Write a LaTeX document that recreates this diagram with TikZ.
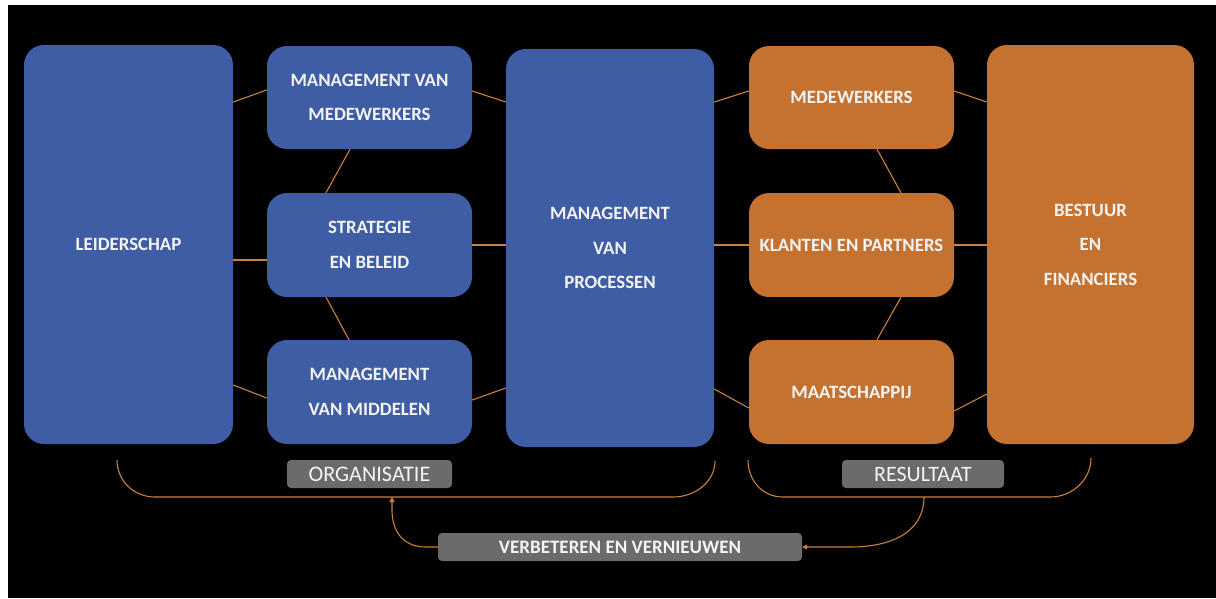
\documentclass[tikz,border=0pt]{standalone}
\usepackage{fontspec}
\setmainfont{Carlito}
\usetikzlibrary{calc,arrows.meta}
\definecolor{boxblue}{HTML}{3E5DA5}
\definecolor{boxorange}{HTML}{C57230}
\definecolor{labelgray}{HTML}{6B6B6B}
\definecolor{linkcol}{HTML}{C8823C}
\definecolor{txt}{HTML}{F4F4F4}
\begin{document}
\begin{tikzpicture}[x=1pt,y=-1pt,
  block/.style={rectangle, rounded corners=20pt, inner sep=0pt, text=txt, align=center,
    font=\fontsize{18.8}{34.5}\selectfont\bfseries},
  bluebox/.style={block, fill=boxblue},
  orangebox/.style={block, fill=boxorange},
  tallbox/.style={minimum width=208pt, minimum height=399pt},
  smallbox/.style={minimum width=205pt, minimum height=104pt},
  tag/.style={rectangle, rounded corners=4pt, fill=labelgray, inner sep=0pt, text=txt,
    minimum height=28pt},
  link/.style={draw=linkcol, line width=1.1pt},
  flow/.style={draw=linkcol, line width=1.1pt, -{Triangle[length=5pt,width=5pt]}}]

\useasboundingbox (0,0) rectangle (1216,598);
\fill[white] (0,0) rectangle (1216,598);
\fill[black] (8,5) rectangle (1216,598);

% blue side
\node[bluebox, tallbox, minimum width=209pt] (lead) at (128.5,244.5) {LEIDERSCHAP};
\node[bluebox, smallbox, minimum height=103pt] (mvm) at (369.5,97.5) {MANAGEMENT VAN\\MEDEWERKERS};
\node[bluebox, smallbox] (strat) at (369.5,245) {STRATEGIE\\EN BELEID};
\node[bluebox, smallbox] (mid) at (369.5,392) {MANAGEMENT\\VAN MIDDELEN};
\node[bluebox, tallbox, minimum height=398pt] (proc) at (610,248) {MANAGEMENT\\VAN\\PROCESSEN};

% orange side
\node[orangebox, smallbox, minimum height=103pt] (med) at (851.5,97.5) {MEDEWERKERS};
\node[orangebox, smallbox] (klant) at (851.5,245) {KLANTEN EN PARTNERS};
\node[orangebox, smallbox] (maat) at (851.5,392) {MAATSCHAPPIJ};
\node[orangebox, tallbox, minimum width=207pt] (best) at (1090.5,244.5) {BESTUUR\\EN\\FINANCIERS};

% connectors
\draw[link] ($(lead.east)+(0,-142.5)$) -- ($(mvm.west)+(0,-7.5)$);
\draw[link] ($(mvm.east)+(0,-6.5)$) -- ($(proc.west)+(0,-146)$);
\draw[link] ($(mvm.south)+(-19.5,0)$) -- ($(strat.north)+(-43.5,0)$);
\draw[link] ($(lead.east)+(0,15.5)$) -- ($(strat.west)+(0,15)$);
\draw[link] (strat.east) -- ($(proc.west)+(0,-3)$);
\draw[link] ($(strat.south)+(-43.5,0)$) -- ($(mid.north)+(-20.5,0)$);
\draw[link] ($(lead.east)+(0,140.5)$) -- ($(mid.west)+(0,6)$);
\draw[link] ($(mid.east)+(0,8)$) -- ($(proc.west)+(0,140)$);
\draw[link] ($(proc.east)+(0,-146)$) -- ($(med.west)+(0,-6.5)$);
\draw[link] ($(med.east)+(0,-6.5)$) -- ($(best.west)+(0,-142.5)$);
\draw[link] ($(med.south)+(25.5,0)$) -- ($(klant.north)+(49.5,0)$);
\draw[link] ($(proc.east)+(0,-3)$) -- (klant.west);
\draw[link] (klant.east) -- ($(best.west)+(0,0.5)$);
\draw[link] ($(klant.south)+(49.5,0)$) -- ($(maat.north)+(25.5,0)$);
\draw[link] ($(proc.east)+(0,141)$) -- ($(maat.west)+(0,16)$);
\draw[link] ($(maat.east)+(0,19)$) -- ($(best.west)+(0,149.5)$);

% labels
\node[tag, minimum width=165pt, font=\fontsize{22.2}{24}\selectfont] (org) at (369.5,474) {ORGANISATIE};
\node[tag, minimum width=162pt, font=\fontsize{22}{24}\selectfont] (res) at (923,474) {RESULTAAT};
\node[tag, minimum width=364pt, font=\fontsize{19}{20}\selectfont\bfseries] (verb) at (620,547) {VERBETEREN EN VERNIEUWEN};

% brackets
\coordinate (orgL) at (117,460);
\coordinate (orgR) at (715,461);
\coordinate (orgIn) at (392,497);
\coordinate (resL) at (748,460);
\coordinate (resR) at (1091,458);
\coordinate (resOut) at (924,497);
\draw[link] (orgL) .. controls (117,481) and (134,497) .. (155,497) -- (673,497)
  .. controls (696,497) and (715,481) .. (orgR);
\draw[link] (resL) .. controls (748,481) and (763,497) .. (783,497) -- (1050,497)
  .. controls (1072,497) and (1091,480) .. (resR);

% feedback arrows
\draw[flow] (resOut) .. controls (924,530) and (895,547) .. (850,547) -- (verb.east);
\draw[flow] (verb.west) -- (426,547) .. controls (402,547) and (392,530) .. (392,510) -- (orgIn);
\end{tikzpicture}
\end{document}
